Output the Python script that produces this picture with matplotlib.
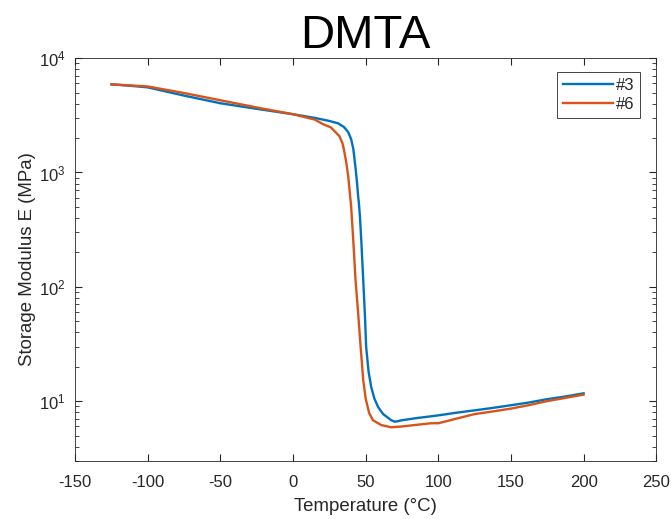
import numpy as np
import matplotlib
matplotlib.use("Agg")
import matplotlib.pyplot as plt

plt.rcParams['font.family'] = ['Liberation Sans', 'DejaVu Sans']
plt.rcParams['mathtext.fontset'] = 'custom'
plt.rcParams['mathtext.rm'] = 'Liberation Sans'
plt.rcParams['mathtext.it'] = 'Liberation Sans:italic'
plt.rcParams['axes.unicode_minus'] = False

# sample #3
t3 = [-125, -110, -100, -75, -50, -25, 0, 15, 25, 31, 35, 38, 40, 41.5, 43, 44,
      44.8, 45.3, 46, 47, 48.3, 49.5, 50.3, 52, 53.8, 56, 58.6, 62, 67.6, 70, 75,
      85, 100, 112, 125, 137, 150, 162, 175, 188, 200]
e3 = [5900, 5700, 5550, 4700, 4030, 3600, 3230, 3000, 2820, 2690, 2500, 2250, 1950,
      1600, 1100, 820, 620, 540, 420, 250, 115, 55, 30, 18, 13.3, 10.5, 8.85, 7.7,
      6.8, 6.6, 6.8, 7.1, 7.5, 7.9, 8.3, 8.7, 9.2, 9.7, 10.4, 11, 11.7]

# sample #6
t6 = [-125, -100, -75, -50, -25, 0, 15, 21, 26, 30, 32, 34, 35, 36.5, 38, 40, 41.4,
      43, 44.8, 46.5, 48.3, 50, 52.4, 55, 60.7, 67.6, 75, 85, 95, 100, 112, 125,
      137, 150, 162, 175, 188, 200]
e6 = [5900, 5650, 4950, 4280, 3700, 3230, 2900, 2630, 2480, 2200, 2070, 1800, 1590,
      1250, 920, 500, 260, 115, 59, 30, 15.3, 10.5, 7.85, 6.8, 6.17, 5.9, 6.0, 6.2,
      6.4, 6.4, 7.0, 7.7, 8.1, 8.6, 9.2, 10.0, 10.7, 11.4]

fig = plt.figure(figsize=(6.71, 5.19), dpi=100)
ax = fig.add_axes([0.112, 0.112, 0.866, 0.776])
ax.semilogy(t3, e3, color='#0072BD', lw=1.7, label='#3')
ax.semilogy(t6, e6, color='#D95319', lw=1.7, label='#6')

ax.set_xlim(-150, 250)
ax.set_ylim(3, 1e4)
ax.set_xticks(np.arange(-150, 251, 50))
ax.tick_params(which='both', direction='in', top=True, right=True,
               colors='#262626', labelsize=12)
ax.tick_params(which='major', length=5)
ax.tick_params(which='minor', length=3)
ax.tick_params(axis='x', pad=10)
ax.tick_params(axis='y', pad=7)
for s in ax.spines.values():
    s.set_color('#262626')
    s.set_linewidth(0.6)

ax.set_xlabel('Temperature (°C)', fontsize=13.4, color='#262626', labelpad=6)
ax.set_ylabel('Storage Modulus E (MPa)', fontsize=13.4, color='#262626', labelpad=2)
ax.set_title('DMTA', fontsize=34, pad=6)
leg = ax.legend(loc='upper right', bbox_to_anchor=(0.9725, 0.965), fontsize=12,
                fancybox=False, framealpha=1, edgecolor='#262626',
                handlelength=3.0, borderpad=0.35, labelspacing=0.25,
                handletextpad=0.2, borderaxespad=0)
leg.get_frame().set_linewidth(0.6)
for txt in leg.get_texts():
    txt.set_color('#262626')

fig.savefig('out.png', dpi=100)
